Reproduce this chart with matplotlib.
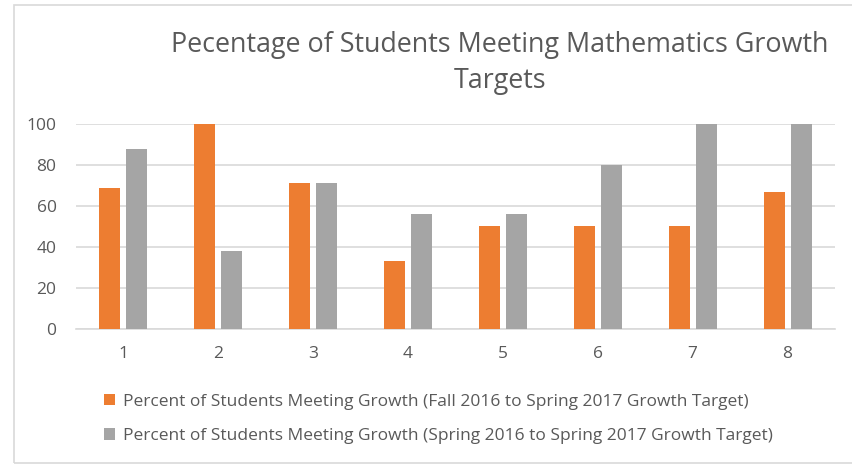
import matplotlib.pyplot as plt
import numpy as np
from matplotlib.patches import Rectangle

grades = ['1', '2', '3', '4', '5', '6', '7', '8']
fall_to_spring = [69, 100, 71, 33, 50, 50, 50, 67]
spring_to_spring = [88, 38, 71, 56, 56, 80, 100, 100]
series_labels = [
    'Percent of Students Meeting Growth (Fall 2016 to Spring 2017 Growth Target)',
    'Percent of Students Meeting Growth (Spring 2016 to Spring 2017 Growth Target)',
]
title = 'Pecentage of Students Meeting Mathematics Growth\nTargets'

plt.rcParams['font.family'] = ['Open Sans', 'DejaVu Sans']
W, H = 852, 469
fig = plt.figure(figsize=(W / 100, H / 100), dpi=100)

# outer chart border (right edge runs off the picture)
fig.patches.append(Rectangle((14 / W, 1 - 463 / H), 1.0, (463 - 5) / H,
                             transform=fig.transFigure, fill=False,
                             edgecolor='#d9d9d9', linewidth=1.2))

ax = fig.add_axes([76 / W, 1 - 329 / H, (835 - 76) / W, (329 - 124) / H])
x = np.arange(1, len(grades) + 1)
w = 0.222
off = 0.142
b1 = ax.bar(x - off, fall_to_spring, w, color='#ed7d31', label=series_labels[0], zorder=3)
b2 = ax.bar(x + off, spring_to_spring, w, color='#a5a5a5', label=series_labels[1], zorder=3)

ax.set_xlim(0.5, 8.5)
ax.set_ylim(0, 100)
ax.set_yticks(range(0, 101, 20))
ax.set_xticks(x)
ax.set_xticklabels(grades)
ax.yaxis.grid(True, color='#d9d9d9', linewidth=1.2, zorder=0)
for s in ['top', 'right', 'left']:
    ax.spines[s].set_visible(False)
ax.spines['bottom'].set_color('#d9d9d9')
ax.spines['bottom'].set_linewidth(1.2)
ax.tick_params(length=0, labelsize=12.5, colors='#595959')
ax.tick_params(axis='x', pad=12)
ax.tick_params(axis='y', pad=14)

fig.text(500 / W, 1 - 63 / H, title, ha='center', va='center', fontsize=19.4,
         color='#595959', linespacing=1.4)

fig.legend(handles=[b1, b2], labels=series_labels, loc='upper left',
           bbox_to_anchor=(95 / W, 1 - 385 / H), frameon=False, fontsize=12.5,
           labelcolor='#595959', handlelength=0.65, handleheight=0.65,
           handletextpad=0.45, labelspacing=1.05, borderpad=0)

fig.savefig('out.png', dpi=100)
